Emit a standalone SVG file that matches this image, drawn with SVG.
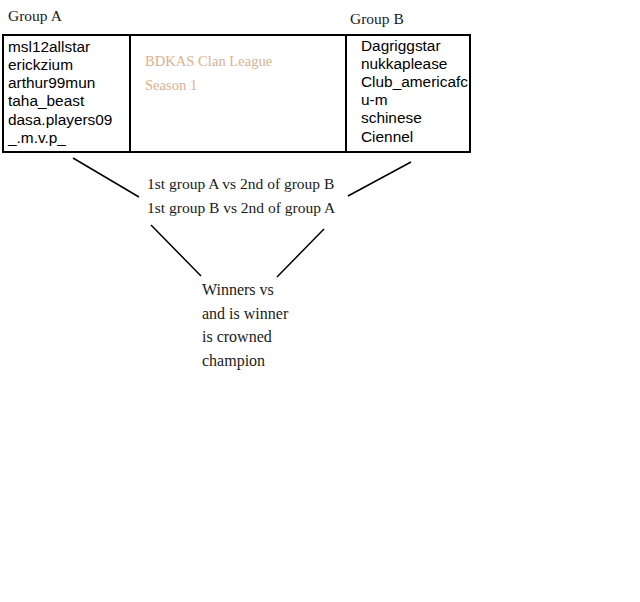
<svg xmlns="http://www.w3.org/2000/svg" width="640" height="602" viewBox="0 0 640 602">
<style>
.serif{font-family:"Liberation Serif","Times New Roman",serif;font-size:15.5px;fill:#1a1a1a}
.big{font-size:16px}
.sans{font-family:"Liberation Sans",Arial,sans-serif;font-size:15.4px;fill:#000}
.tan{font-family:"Liberation Serif","Times New Roman",serif;font-size:14.6px;fill:#e2b08a}
.frame{fill:none;stroke:#000;stroke-width:2}
.conn line{stroke:#000;stroke-width:1.5}
</style>
<rect width="640" height="602" fill="#fff"/>
<g id="labels">
<text class="serif" x="8" y="21">Group A</text>
<text class="serif" x="350" y="24">Group B</text>
</g>
<g id="table">
<rect class="frame" x="3" y="35" width="467" height="117"/>
<line class="frame" x1="130" y1="35" x2="130" y2="152"/>
<line class="frame" x1="346" y1="35" x2="346" y2="152"/>
</g>
<g id="groupA">
<text class="sans" x="8" y="51.5">msl12allstar</text>
<text class="sans" x="8" y="69.8">erickzium</text>
<text class="sans" x="8" y="88.1">arthur99mun</text>
<text class="sans" x="8" y="106.4">taha_beast</text>
<text class="sans" x="8" y="124.7">dasa.players09</text>
<text class="sans" x="8" y="143">_.m.v.p_</text>
</g>
<g id="title">
<text class="tan" x="145" y="66">BDKAS Clan League</text>
<text class="tan" x="145" y="90">Season 1</text>
</g>
<g id="groupB">
<text class="sans" x="361" y="50.5">Dagriggstar</text>
<text class="sans" x="361" y="68.7">nukkaplease</text>
<text class="sans" x="361" y="86.9">Club_americafc</text>
<text class="sans" x="361" y="105.1">u-m</text>
<text class="sans" x="361" y="123.3">schinese</text>
<text class="sans" x="361" y="141.5">Ciennel</text>
</g>
<g id="semis">
<text class="serif" x="147" y="189">1st group A vs 2nd of group B</text>
<text class="serif" x="147" y="213">1st group B vs 2nd of group A</text>
</g>
<g id="final">
<text class="serif big" x="202" y="295">Winners vs</text>
<text class="serif big" x="202" y="319">and is winner</text>
<text class="serif big" x="202" y="342">is crowned</text>
<text class="serif big" x="202" y="366">champion</text>
</g>
<g id="connectors" class="conn">
<line x1="73" y1="158" x2="139" y2="197"/>
<line x1="411" y1="162" x2="348" y2="196"/>
<line x1="151" y1="225" x2="201" y2="276"/>
<line x1="324" y1="229" x2="277" y2="277"/>
</g>
</svg>
